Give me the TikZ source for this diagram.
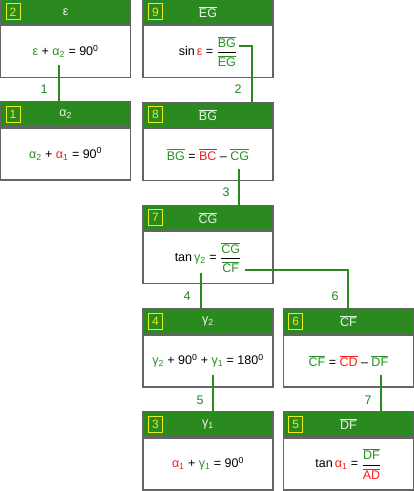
\documentclass[tikz,border=0pt]{standalone}
\usepackage{amsmath}
\usepackage{fontspec}
\setmainfont{Liberation Sans}
\usetikzlibrary{positioning}

\definecolor{hdgreen}{RGB}{42,138,32}
\definecolor{knwn}{RGB}{40,145,40}
\definecolor{unkn}{RGB}{250,30,30}
\definecolor{numyel}{RGB}{232,236,30}
\definecolor{frame}{RGB}{100,100,100}
\definecolor{hdtext}{RGB}{232,246,228}

\newcommand{\seg}[1]{$\overline{\mbox{#1}}$}
\newcommand{\kn}[1]{\textcolor{knwn}{#1}}
\newcommand{\un}[1]{\textcolor{unkn}{#1}}
\newcommand{\frc}[2]{$\genfrac{}{}{0.9pt}{0}{\mbox{#1}}{\mbox{#2}}$}
\newcommand{\dg}{\textsuperscript{0}}

\tikzset{
  body/.style={draw=frame, line width=1.2pt, fill=white, minimum width=130pt,
    minimum height=52pt, inner sep=0pt, font=\fontsize{12.5}{14}\selectfont},
  head/.style={draw=frame, line width=1.2pt, fill=hdgreen, minimum width=130pt,
    minimum height=25pt, inner sep=0pt, anchor=south, text=hdtext,
    font=\fontsize{12.5}{14}\selectfont},
  numbox/.style={draw=numyel, line width=0.9pt, minimum width=14pt, minimum height=16pt,
    inner sep=0pt, text=numyel, font=\fontsize{12}{14}\selectfont},
  link/.style={draw=hdgreen, line width=1.8pt},
  linklabel/.style={text=knwn!90!black, font=\fontsize{12.5}{14}\selectfont}
}

\begin{document}
\begin{tikzpicture}[x=1pt, y=-1pt]
    \useasboundingbox (0,0) rectangle (414,491);
    % boxes
    \node[body] (b2) at (65.6,51.6) {\kn{ε} + \kn{α\textsubscript{2}} = 90\dg};
    \node[head] (h2) at (b2.north) {ε};
    \node[numbox] (n2) at ([xshift=13pt]h2.west) {2};

    \node[body] (b9) at (208,51.6) {sin\,\un{ε} = \frc{\kn{\seg{BG}}}{\kn{\seg{EG}}}};
    \node[head] (h9) at (b9.north) {\seg{EG}};
    \node[numbox] (n9) at ([xshift=13pt]h9.west) {9};

    \node[body] (b1) at (65.6,154) {\kn{α\textsubscript{2}} + \un{α\textsubscript{1}} = 90\dg};
    \node[head] (h1) at (b1.north) {α\textsubscript{2}};
    \node[numbox] (n1) at ([xshift=13pt]h1.west) {1};

    \node[body] (b8) at (208,154.5) {\kn{\seg{BG}} = \un{\seg{BC}} – \kn{\seg{CG}}};
    \node[head] (h8) at (b8.north) {\seg{BG}};
    \node[numbox] (n8) at ([xshift=13pt]h8.west) {8};

    \node[body] (b7) at (208,257.5) {tan\,\kn{γ\textsubscript{2}} = \frc{\kn{\seg{CG}}}{\kn{\seg{CF}}}};
    \node[head] (h7) at (b7.north) {\seg{CG}};
    \node[numbox] (n7) at ([xshift=13pt]h7.west) {7};

    \node[body] (b4) at (208,361) {\kn{γ\textsubscript{2}} + 90\dg{} + \kn{γ\textsubscript{1}} = 180\dg};
    \node[head] (h4) at (b4.north) {γ\textsubscript{2}};
    \node[numbox] (n4) at ([xshift=13pt]h4.west) {4};

    \node[body] (b6) at (348.4,361) {\kn{\seg{CF}} = \un{\seg{CD}} – \kn{\seg{DF}}};
    \node[head] (h6) at (b6.north) {\seg{CF}};
    \node[numbox] (n6) at ([xshift=13pt]h6.west) {6};

    \node[body] (b3) at (208,464) {\un{α\textsubscript{1}} + \kn{γ\textsubscript{1}} = 90\dg};
    \node[head] (h3) at (b3.north) {γ\textsubscript{1}};
    \node[numbox] (n3) at ([xshift=13pt]h3.west) {3};

    \node[body] (b5) at (348.4,464) {tan\,\un{α\textsubscript{1}} = \frc{\kn{\seg{DF}}}{\un{\seg{AD}}}};
    \node[head] (h5) at (b5.north) {\seg{DF}};
    \node[numbox] (n5) at ([xshift=13pt]h5.west) {5};

    % connectors
    \coordinate (s1) at (59,65);
    \coordinate (s2) at (239,46);
    \coordinate (e2) at (252,103);
    \coordinate (s3) at (239,169);
    \coordinate (s4) at (201,273);
    \coordinate (s6) at (245,270);
    \coordinate (e6) at (348,310);
    \coordinate (s5) at (213,375);
    \coordinate (s7) at (381,375);
    \draw[link] (s1) -- (s1 |- h1.north);
    \draw[link] (s2) -| (e2);
    \draw[link] (s3) -- (s3 |- h7.north);
    \draw[link] (s4) -- (s4 |- h4.north);
    \draw[link] (s6) -| (e6);
    \draw[link] (s5) -- (s5 |- h3.north);
    \draw[link] (s7) -- (s7 |- h5.north);
    \node[linklabel] (l1) at (44,89) {1};
    \node[linklabel] (l2) at (238,89) {2};
    \node[linklabel] (l3) at (226,192) {3};
    \node[linklabel] (l4) at (187,296) {4};
    \node[linklabel] (l6) at (335,296) {6};
    \node[linklabel] (l5) at (200,400) {5};
    \node[linklabel] (l7) at (368,400) {7};
\end{tikzpicture}
\end{document}
